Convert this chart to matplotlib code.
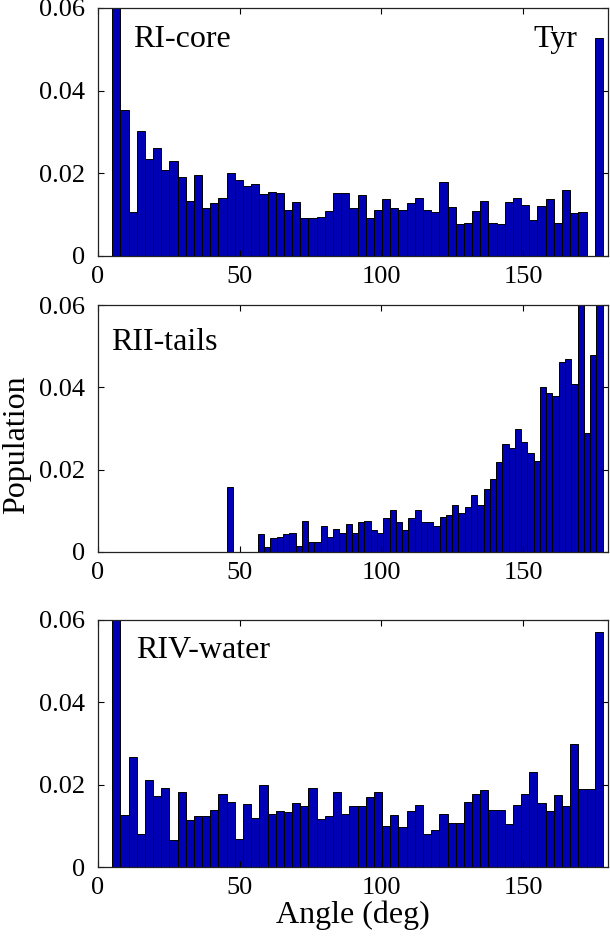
import numpy as np
import matplotlib
matplotlib.use("Agg")
import matplotlib.pyplot as plt

# ---------------- data ----------------
n_bins = 60
core_range = (5.0, 178.2)
tails_range = (45.4, 178.1)
water_range = (5.0, 178.2)

core_vals = [0.075, 0.0353, 0.0107, 0.0302, 0.0235, 0.0261, 0.0207, 0.0229, 0.0192, 0.0133,
             0.0195, 0.0115, 0.0128, 0.0141, 0.0200, 0.0184, 0.0169, 0.0175, 0.0150, 0.0156,
             0.0153, 0.0112, 0.0131, 0.0092, 0.0092, 0.0095, 0.0108, 0.0153, 0.0153, 0.0115,
             0.0147, 0.0093, 0.0112, 0.0137, 0.0115, 0.0112, 0.0128, 0.0141, 0.0112, 0.0106,
             0.0179, 0.0118, 0.0077, 0.0080, 0.0109, 0.0133, 0.0080, 0.0077, 0.0131, 0.0141,
             0.0124, 0.0086, 0.0121, 0.0137, 0.0080, 0.0159, 0.0103, 0.0106, 0.0, 0.0527]

tails_vals = [0.0158, 0.0, 0.0, 0.0, 0.0, 0.0043, 0.0012, 0.0034, 0.0037, 0.0044,
              0.0047, 0.0015, 0.0075, 0.0024, 0.0024, 0.0062, 0.0037, 0.0056, 0.0047, 0.0069,
              0.0047, 0.0072, 0.0075, 0.0053, 0.0047, 0.0082, 0.0101, 0.0072, 0.0053, 0.0082,
              0.0101, 0.0074, 0.0074, 0.0063, 0.0085, 0.0091, 0.0113, 0.0095, 0.0110, 0.0139,
              0.0113, 0.0152, 0.0177, 0.0219, 0.0263, 0.0253, 0.0300, 0.0266, 0.0240, 0.0222,
              0.0400, 0.0387, 0.0380, 0.0461, 0.0470, 0.0409, 0.065, 0.0288, 0.0479, 0.070]

water_vals = [0.090, 0.0126, 0.0266, 0.0081, 0.0212, 0.0173, 0.0193, 0.0066, 0.0183, 0.0113,
              0.0123, 0.0123, 0.0139, 0.0178, 0.0159, 0.0068, 0.0152, 0.0120, 0.0200, 0.0129,
              0.0136, 0.0133, 0.0155, 0.0148, 0.0193, 0.0117, 0.0123, 0.0181, 0.0129, 0.0148,
              0.0148, 0.0170, 0.0181, 0.0100, 0.0126, 0.0097, 0.0136, 0.0151, 0.0081, 0.0091,
              0.0129, 0.0107, 0.0107, 0.0158, 0.0177, 0.0186, 0.0139, 0.0139, 0.0104, 0.0151,
              0.0177, 0.0231, 0.0155, 0.0136, 0.0174, 0.0148, 0.0300, 0.0189, 0.0189, 0.0571]

panel_labels = ["RI-core", "RII-tails", "RIV-water"]
x_ticks = [0, 50, 100, 150]
y_ticks = [0, 0.02, 0.04, 0.06]
y_ticklabels = ["0", "0.02", "0.04", "0.06"]

# ---------------- figure ----------------
plt.rcParams['font.family'] = ['Liberation Serif', 'DejaVu Serif']
fig = plt.figure(figsize=(6.1, 9.4), dpi=100)

bar_color = '#0000b4'
W, H = 610.0, 940.0
left, right = 98, 608
panels = [(8, 256), (305, 552), (620, 867)]

datasets = [(core_range, core_vals), (tails_range, tails_vals), (water_range, water_vals)]
axes = []
for (top, bot), (rng, vals), lab in zip(panels, datasets, panel_labels):
    ax = fig.add_axes([left / W, 1 - bot / H, (right - left) / W, (bot - top) / H])
    edges = np.linspace(rng[0], rng[1], n_bins + 1)
    ax.bar(edges[:-1], vals, width=np.diff(edges), align='edge',
           color=bar_color, edgecolor='black', linewidth=0.7)
    ax.set_xlim(0, 180)
    ax.set_ylim(0, 0.06)
    ax.set_xticks(x_ticks)
    ax.set_yticks(y_ticks)
    ax.set_yticklabels(y_ticklabels)
    ax.tick_params(direction='in', length=4, width=0.8, top=True, right=True,
                   labelsize=19, colors='black')
    ax.tick_params(axis='x', pad=7)
    ax.tick_params(axis='y', pad=9)
    for s in ax.spines.values():
        s.set_linewidth(0.9)
        s.set_color('#222222')
    axes.append(ax)

axes[0].text(12.3, 0.0524, "RI-core", fontsize=23, va='center', ha='left')
axes[0].text(169.2, 0.0524, "Tyr", fontsize=23, va='center', ha='right')
axes[1].text(4.5, 0.0509, "RII-tails", fontsize=23, va='center', ha='left')
axes[2].text(13.6, 0.0527, "RIV-water", fontsize=23, va='center', ha='left')

fig.text(17 / W, 1 - 445 / H, "Population", fontsize=23, rotation=90,
         ha='center', va='center')
axes[2].set_xlabel("Angle (deg)", fontsize=23, labelpad=1)

fig.savefig("out.png", dpi=100)
